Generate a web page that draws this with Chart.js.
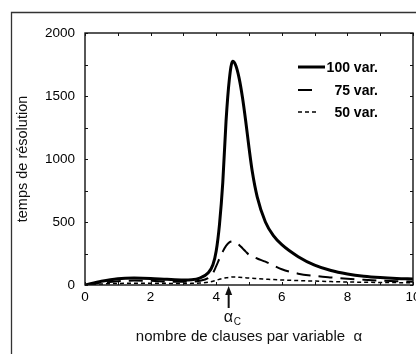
<!DOCTYPE html>
<html>
<head>
<meta charset="utf-8">
<script src="https://cdn.jsdelivr.net/npm/chart.js@4.4.1/dist/chart.umd.min.js"></script>
<style>
html, body { margin: 0; padding: 0; background: #fff; }
canvas { display: block; }
</style>
</head>
<body>
<canvas id="chart" width="416" height="354"></canvas>
<script>
// nombre de clauses par variable (alpha)
const alpha = [0, 0.5, 1, 1.5, 2, 2.5, 3, 3.25, 3.5, 3.75, 3.9, 4, 4.1, 4.2, 4.3, 4.4, 4.5, 4.6, 4.7, 4.8, 4.9, 5, 5.1, 5.25, 5.5, 5.75, 6, 6.5, 7, 7.5, 8, 8.5, 9, 9.5, 10];
// temps de resolution
const t100 = [0, 30, 50, 55, 52, 45, 40, 42, 55, 95, 160, 270, 480, 810, 1300, 1630, 1775, 1740, 1640, 1490, 1300, 1090, 900, 700, 500, 390, 320, 225, 158, 115, 88, 70, 59, 52, 48];
const t75  = [0, 18, 30, 35, 33, 28, 25, 27, 33, 55, 95, 150, 210, 265, 310, 338, 345, 338, 318, 292, 265, 240, 228, 210, 185, 155, 125, 90, 72, 60, 50, 42, 35, 30, 26];
const t50  = [0, 8, 12, 14, 14, 13, 12, 13, 15, 22, 30, 38, 45, 52, 57, 61, 64, 63, 61, 59, 57, 55, 53.5, 51, 47, 43, 40, 35, 31, 27, 24, 22, 20, 19, 18];
const seriesNames = ['100 var.', '75 var.', '50 var.'];
const xTickValues = [0, 2, 4, 6, 8, 10];
const yTickValues = [0, 500, 1000, 1500, 2000];
const alphaC = 4.38;

const FONT = '"Liberation Sans", Arial, sans-serif';

const toPoints = vals => vals.map((v, i) => ({x: alpha[i], y: v}));

const decor = {
  id: 'decor',
  beforeDraw(chart) {
    const ctx = chart.ctx;
    ctx.save();
    ctx.fillStyle = '#fff';
    ctx.fillRect(0, 0, chart.width, chart.height);
    // outer frame
    ctx.strokeStyle = '#333';
    ctx.lineWidth = 1.3;
    ctx.beginPath();
    ctx.moveTo(11.5, chart.height);
    ctx.lineTo(11.5, 12.5);
    ctx.lineTo(chart.width, 12.5);
    ctx.stroke();
    ctx.restore();
  },
  afterDatasetsDraw(chart) {
    const {ctx, chartArea: a, scales: {x, y}} = chart;
    ctx.save();
    // plot box
    ctx.strokeStyle = '#111';
    ctx.lineWidth = 1.4;
    ctx.strokeRect(a.left, a.top, a.right - a.left, a.bottom - a.top);
    // inward ticks
    ctx.lineWidth = 1;
    ctx.beginPath();
    for (let v = x.min; v <= x.max; v += 1) {
      const px = Math.round(x.getPixelForValue(v)) + 0.5;
      ctx.moveTo(px, a.top); ctx.lineTo(px, a.top + 3);
      ctx.moveTo(px, a.bottom); ctx.lineTo(px, a.bottom - 3);
    }
    for (let v = y.min; v <= y.max; v += 250) {
      const py = Math.round(y.getPixelForValue(v)) + 0.5;
      ctx.moveTo(a.left, py); ctx.lineTo(a.left + 3, py);
      ctx.moveTo(a.right, py); ctx.lineTo(a.right - 3, py);
    }
    ctx.stroke();

    // alpha_c arrow
    const ax = x.getPixelForValue(alphaC);
    ctx.fillStyle = '#111';
    ctx.lineWidth = 2;
    ctx.beginPath();
    ctx.moveTo(ax, a.bottom + 8);
    ctx.lineTo(ax, a.bottom + 23);
    ctx.stroke();
    ctx.beginPath();
    ctx.moveTo(ax, a.bottom + 1);
    ctx.lineTo(ax - 3.5, a.bottom + 10);
    ctx.lineTo(ax + 3.5, a.bottom + 10);
    ctx.closePath();
    ctx.fill();
    ctx.textAlign = 'left';
    ctx.textBaseline = 'alphabetic';
    ctx.font = '16px ' + FONT;
    ctx.fillText('α', ax - 5, a.bottom + 37);
    ctx.font = '10px ' + FONT;
    ctx.fillText('C', ax + 5, a.bottom + 40);

    // legend
    const rows = [67, 90, 112];
    const lens = [27, 14, 19];
    chart.data.datasets.forEach((ds, i) => {
      const ly = rows[i];
      ctx.strokeStyle = '#000';
      ctx.lineWidth = ds.borderWidth;
      ctx.setLineDash(ds.borderDash || []);
      ctx.beginPath();
      ctx.moveTo(298, ly);
      ctx.lineTo(298 + lens[i], ly);
      ctx.stroke();
      ctx.setLineDash([]);
      ctx.fillStyle = '#000';
      ctx.font = 'bold 14px ' + FONT;
      ctx.textAlign = 'right';
      ctx.textBaseline = 'middle';
      ctx.fillText(ds.label, 378, ly + 1);
    });
    ctx.restore();
  }
};

new Chart(document.getElementById('chart'), {
  type: 'line',
  data: {
    datasets: [
      {label: seriesNames[0], data: toPoints(t100), borderColor: '#000', borderWidth: 3, borderDash: []},
      {label: seriesNames[1], data: toPoints(t75), borderColor: '#000', borderWidth: 2, borderDash: [14, 8]},
      {label: seriesNames[2], data: toPoints(t50), borderColor: '#000', borderWidth: 1.5, borderDash: [4, 3]}
    ]
  },
  options: {
    responsive: false,
    animation: false,
    events: [],
    layout: {autoPadding: false, padding: {top: 33, right: 3, left: 0, bottom: 0}},
    elements: {
      point: {radius: 0},
      line: {cubicInterpolationMode: 'monotone', fill: false}
    },
    plugins: {legend: {display: false}, tooltip: {enabled: false}},
    scales: {
      x: {
        type: 'linear',
        min: 0,
        max: 10,
        grid: {display: false, drawTicks: false},
        border: {display: false},
        afterBuildTicks: s => { s.ticks = xTickValues.map(v => ({value: v})); },
        afterFit: s => { s.height = 69; s.paddingLeft = 0; s.paddingRight = 0; },
        ticks: {color: '#000', padding: 4, maxRotation: 0, font: {family: FONT, size: 13.5}, callback: v => String(v)},
        title: {
          display: true,
          text: 'nombre de clauses par variable  α',
          color: '#111',
          font: {family: FONT, size: 15},
          padding: {top: 0, bottom: 8}
        }
      },
      y: {
        type: 'linear',
        min: 0,
        max: 2000,
        grid: {display: false, drawTicks: false},
        border: {display: false},
        afterBuildTicks: s => { s.ticks = yTickValues.map(v => ({value: v})); },
        afterFit: s => { s.width = 85; s.paddingTop = 0; s.paddingBottom = 0; },
        ticks: {color: '#000', padding: 10, font: {family: FONT, size: 13.5}, callback: v => String(v)},
        title: {
          display: true,
          text: 'temps de résolution',
          color: '#111',
          font: {family: FONT, size: 14.5},
          padding: {top: 14, bottom: 0}
        }
      }
    }
  },
  plugins: [decor]
});
</script>
</body>
</html>
